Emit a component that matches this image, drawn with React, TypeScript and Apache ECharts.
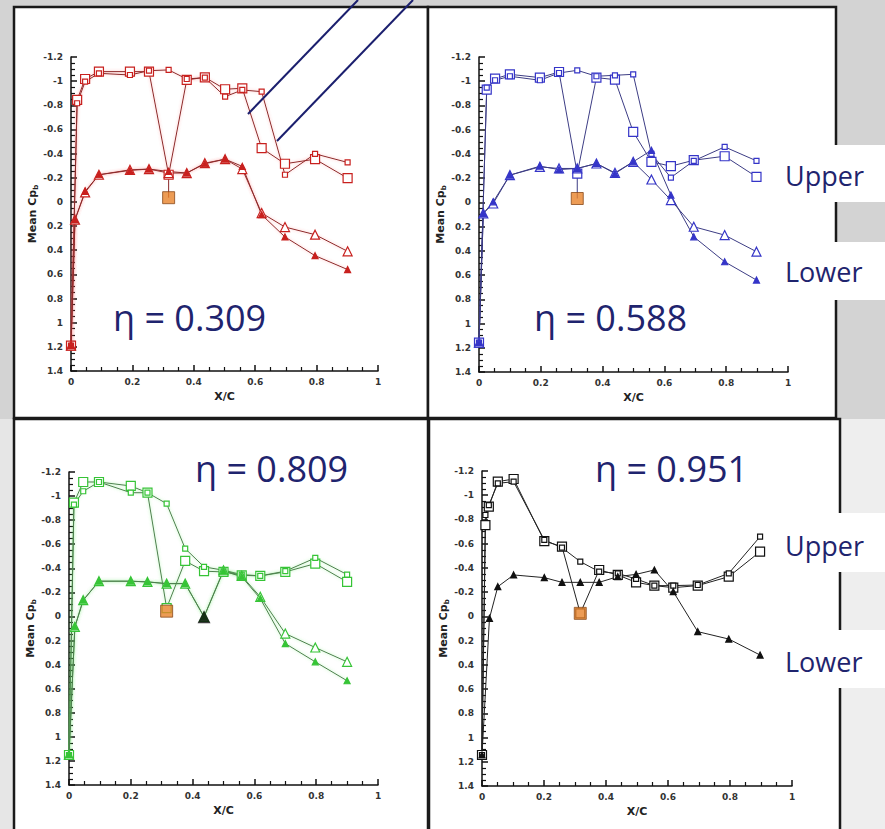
import React, { useEffect, useRef } from "react";
import * as echarts from "echarts";

// ---------- DATA ----------
// Panel η = 0.309
const x309U = [0, 0.02, 0.046, 0.091, 0.192, 0.254, 0.318, 0.377, 0.436, 0.502, 0.558, 0.621, 0.697, 0.795, 0.901];
const cp309UpA = [1.19, -0.845, -1.018, -1.079, -1.079, -1.079, -0.225, -1.01, -1.032, -0.933, -0.941, -0.445, -0.316, -0.354, -0.197];
const cp309UpB = [1.19, -0.817, -0.996, -1.065, -1.051, -1.087, -1.093, -1.018, -1.029, -0.872, -0.927, -0.913, -0.225, -0.398, -0.327];
const x309L = [0, 0.013, 0.046, 0.091, 0.192, 0.254, 0.318, 0.377, 0.436, 0.502, 0.558, 0.621, 0.697, 0.795, 0.901];
const cp309LoA = [1.19, 0.147, -0.079, -0.225, -0.266, -0.272, -0.239, -0.239, -0.321, -0.354, -0.272, 0.092, 0.208, 0.271, 0.409];
const cp309LoB = [1.19, 0.147, -0.087, -0.225, -0.261, -0.272, -0.252, -0.239, -0.316, -0.354, -0.294, 0.106, 0.29, 0.445, 0.56];
const miss309 = [0.318, -0.035];

// Panel η = 0.588
const x588U = [0, 0.025, 0.052, 0.1, 0.197, 0.259, 0.318, 0.38, 0.44, 0.499, 0.558, 0.621, 0.695, 0.795, 0.898];
const cp588UpA = [1.157, -0.931, -1.021, -1.057, -1.03, -1.076, -0.238, -1.03, -1.013, -0.582, -0.335, -0.299, -0.348, -0.381, -0.211];
const cp588UpB = [1.157, -0.947, -1.008, -1.041, -1.008, -1.068, -1.09, -1.041, -1.049, -1.057, -0.4, -0.205, -0.343, -0.458, -0.343];
const x588L = [0, 0.014, 0.046, 0.1, 0.197, 0.259, 0.318, 0.38, 0.44, 0.499, 0.558, 0.621, 0.695, 0.795, 0.898];
const cp588LoA = [1.157, 0.091, 0.009, -0.225, -0.293, -0.28, -0.28, -0.321, -0.244, -0.335, -0.189, -0.019, 0.201, 0.27, 0.407];
const cp588LoB = [1.157, 0.091, -0.005, -0.225, -0.299, -0.271, -0.28, -0.321, -0.238, -0.335, -0.43, -0.06, 0.284, 0.49, 0.641];
const miss588 = [0.318, -0.032];

// Panel η = 0.809
const x809U = [0, 0.016, 0.046, 0.097, 0.2, 0.254, 0.316, 0.376, 0.437, 0.5, 0.559, 0.619, 0.7, 0.797, 0.9];
const cp809UpA = [1.151, -0.945, -1.117, -1.117, -1.084, -1.028, -0.07, -0.461, -0.376, -0.37, -0.342, -0.337, -0.37, -0.439, -0.287];
const cp809UpB = [1.151, -0.929, -1.04, -1.117, -1.028, -1.028, -0.937, -0.564, -0.412, -0.384, -0.348, -0.337, -0.376, -0.486, -0.348];
const x809L = [0, 0.019, 0.046, 0.097, 0.2, 0.254, 0.316, 0.376, 0.437, 0.5, 0.559, 0.619, 0.7, 0.797, 0.9];
const cp809LoA = [1.151, 0.086, -0.135, -0.293, -0.293, -0.287, -0.273, -0.273, 0.003, -0.384, -0.337, -0.163, 0.142, 0.258, 0.377];
const cp809LoB = [1.151, 0.086, -0.135, -0.293, -0.293, -0.287, -0.273, -0.273, 0.003, -0.378, -0.33, -0.149, 0.225, 0.377, 0.534];
const miss809 = [0.316, -0.044];
const lowerMiss809 = [0.437, 0.003];

// Panel η = 0.951
const x951U = [0, 0.011, 0.022, 0.051, 0.102, 0.201, 0.258, 0.317, 0.378, 0.438, 0.497, 0.556, 0.617, 0.696, 0.796, 0.897];
const cp951UpA = [1.144, -0.754, -0.906, -1.112, -1.134, -0.622, -0.576, -0.025, -0.383, -0.342, -0.281, -0.254, -0.237, -0.254, -0.328, -0.534];
const cp951UpB = [1.144, -0.837, -0.919, -1.098, -1.112, -0.631, -0.567, -0.452, -0.369, -0.355, -0.309, -0.254, -0.254, -0.259, -0.355, -0.658];
const x951L = [0, 0.024, 0.051, 0.102, 0.201, 0.258, 0.317, 0.378, 0.438, 0.497, 0.556, 0.617, 0.696, 0.796, 0.897];
const cp951LoB = [1.144, 0.016, -0.245, -0.342, -0.32, -0.281, -0.281, -0.281, -0.328, -0.347, -0.383, -0.204, 0.126, 0.187, 0.319];
const miss951 = [0.317, -0.025];

const etaLabels = ["η = 0.309", "η = 0.588", "η = 0.809", "η = 0.951"];
const sideLabels = ["Upper", "Lower"];
const xTitle = "X/C";

// ---------- LAYOUT / STYLE ----------
const grids = [
  { left: 71, top: 57, width: 307, height: 314 },
  { left: 479, top: 57, width: 309, height: 315 },
  { left: 69, top: 472, width: 309, height: 313 },
  { left: 482, top: 471, width: 310, height: 315 },
];
const palette = [
  { mark: "#c8201e", line: "#8a2a2a", glow: "rgba(255,90,90,0.45)" },
  { mark: "#3535c8", line: "#3c3c84", glow: "rgba(0,0,0,0)" },
  { mark: "#36c436", line: "#4e7e4e", glow: "rgba(90,230,90,0.5)" },
  { mark: "#111111", line: "#222222", glow: "rgba(0,0,0,0)" },
];
const NAVY = "#1f246e";

const zip = (xs: number[], ys: number[]) => xs.map((x, i) => [x, ys[i]]);

function lineSeries(p: number, xs: number[], ys: number[], kind: string) {
  const c = palette[p];
  const sym: any = {
    upA: { symbol: "rect", size: 9, fill: "#ffffff" },
    upB: { symbol: "rect", size: 5, fill: "#ffffff" },
    loA: { symbol: "triangle", size: 9, fill: "#ffffff" },
    loB: { symbol: "triangle", size: 6, fill: c.mark },
  }[kind];
  return {
    type: "line",
    xAxisIndex: p,
    yAxisIndex: p,
    data: zip(xs, ys),
    symbol: sym.symbol,
    symbolSize: sym.size,
    showAllSymbol: true,
    lineStyle: { color: c.line, width: 1, shadowBlur: 3, shadowColor: c.glow },
    itemStyle: { color: sym.fill, borderColor: c.mark, borderWidth: 1.2 },
    z: 3,
  };
}

function missingSeries(p: number, pt: number[], dipY: number) {
  const c = palette[p];
  return [
    {
      type: "line",
      xAxisIndex: p,
      yAxisIndex: p,
      data: [[pt[0], dipY], [pt[0], pt[1]]],
      symbol: "none",
      lineStyle: { color: c.line, width: 1 },
      z: 3,
    },
    {
      type: "scatter",
      xAxisIndex: p,
      yAxisIndex: p,
      data: [pt],
      symbol: "rect",
      symbolSize: 12,
      itemStyle: { color: "#e8832b", borderColor: "#8a4a1a", borderWidth: 1 },
      z: 5,
    },
  ];
}

const fmt = (v: number) => String(Math.round(v * 10) / 10);

function xAxis(i: number) {
  return {
    gridIndex: i,
    type: "value",
    min: 0,
    max: 1,
    interval: 0.2,
    name: xTitle,
    nameLocation: "middle",
    nameGap: 20,
    nameTextStyle: { fontSize: 11, fontWeight: "bold", color: "#222", fontFamily: "DejaVu Sans" },
    axisLine: { onZero: false, lineStyle: { color: "#111", width: 1.5 } },
    axisTick: { inside: true, length: 6, lineStyle: { color: "#111", width: 1.5 } },
    minorTick: { show: true, splitNumber: 4, length: 4, lineStyle: { color: "#111", width: 1.2 } },
    splitLine: { show: false },
    axisLabel: { fontSize: 9, color: "#333", margin: 6, fontWeight: "bold", formatter: fmt, fontFamily: "DejaVu Sans" },
  };
}
function yAxis(i: number) {
  return {
    gridIndex: i,
    type: "value",
    inverse: true,
    min: -1.2,
    max: 1.4,
    interval: 0.2,
    name: "{t|Mean C}{p|p}{s|b}",
    nameLocation: "middle",
    nameGap: 30,
    nameRotate: 90,
    nameTextStyle: {
      color: "#222",
      rich: {
        t: { fontSize: 11, fontWeight: "bold", fontFamily: "DejaVu Sans", color: "#222" },
        p: { fontSize: 11, fontWeight: "bold", fontFamily: "DejaVu Sans", color: "#222" },
        s: { fontSize: 7, fontWeight: "bold", fontFamily: "DejaVu Sans", color: "#222", padding: [6, 0, 0, 0] },
      },
    },
    axisLine: { onZero: false, lineStyle: { color: "#111", width: 1.5 } },
    axisTick: { inside: true, length: 6, lineStyle: { color: "#111", width: 1.5 } },
    minorTick: { show: true, splitNumber: 4, length: 4, lineStyle: { color: "#111", width: 1.2 } },
    splitLine: { show: false },
    axisLabel: { fontSize: 9, color: "#333", margin: 8, fontWeight: "bold", formatter: fmt, fontFamily: "DejaVu Sans" },
  };
}

export default function App() {
  const ref = useRef<HTMLDivElement>(null);
  useEffect(() => {
    if (!ref.current) return;
    const chart = echarts.init(ref.current, undefined, { renderer: "svg" });

    const series: any[] = [
      lineSeries(0, x309U, cp309UpA, "upA"),
      lineSeries(0, x309U, cp309UpB, "upB"),
      lineSeries(0, x309L, cp309LoA, "loA"),
      lineSeries(0, x309L, cp309LoB, "loB"),
      ...missingSeries(0, miss309, cp309UpA[6]),
      lineSeries(1, x588U, cp588UpA, "upA"),
      lineSeries(1, x588U, cp588UpB, "upB"),
      lineSeries(1, x588L, cp588LoA, "loA"),
      lineSeries(1, x588L, cp588LoB, "loB"),
      ...missingSeries(1, miss588, cp588UpA[6]),
      lineSeries(2, x809U, cp809UpA, "upA"),
      lineSeries(2, x809U, cp809UpB, "upB"),
      lineSeries(2, x809L, cp809LoA, "loA"),
      lineSeries(2, x809L, cp809LoB, "loB"),
      ...missingSeries(2, miss809, cp809UpA[6]),
      {
        type: "scatter",
        xAxisIndex: 2,
        yAxisIndex: 2,
        data: [lowerMiss809],
        symbol: "triangle",
        symbolSize: 13,
        itemStyle: { color: "#0a0a0a" },
        z: 5,
      },
      lineSeries(3, x951U, cp951UpA, "upA"),
      lineSeries(3, x951U, cp951UpB, "upB"),
      lineSeries(3, x951L, cp951LoB, "loB"),
      ...missingSeries(3, miss951, cp951UpA[7]),
    ];

    const panelRect = (x: number, y: number, w: number, h: number) => ({
      type: "rect",
      z: -5,
      shape: { x, y, width: w, height: h },
      style: { fill: "#ffffff", stroke: "#1a1a1a", lineWidth: 2.5 },
    });
    const whiteBox = (y: number, h: number) => ({
      type: "rect",
      z: 50,
      shape: { x: 775, y, width: 110, height: h },
      style: { fill: "#ffffff" },
    });
    const txt = (t: string, x: number, y: number, size: number) => ({
      type: "text",
      z: 60,
      style: {
        text: t,
        x,
        y,
        fill: NAVY,
        fontSize: size,
        fontFamily: "Open Sans",
        verticalAlign: "middle",
        textAlign: "left",
      },
    });

    chart.setOption({
      animation: false,
      backgroundColor: "#d3d3d3",
      grid: grids.map((g) => ({ ...g, containLabel: false })),
      xAxis: grids.map((_, i) => xAxis(i)),
      yAxis: grids.map((_, i) => yAxis(i)),
      series,
      graphic: [
        { type: "rect", z: -8, shape: { x: 0, y: 419, width: 14, height: 410 }, style: { fill: "#e6e6e6" } },
        { type: "rect", z: -8, shape: { x: 840, y: 419, width: 45, height: 410 }, style: { fill: "#eeeeee" } },
        panelRect(14, 7, 414, 411),
        panelRect(428, 7, 408, 411),
        panelRect(14, 419, 414, 420),
        panelRect(429, 419, 411, 420),
        whiteBox(145, 57),
        whiteBox(242, 58),
        whiteBox(513, 59),
        whiteBox(630, 58),
        txt(sideLabels[0], 785, 175, 27),
        txt(sideLabels[1], 785, 271, 27),
        txt(sideLabels[0], 785, 545, 27),
        txt(sideLabels[1], 785, 661, 27),
        txt(etaLabels[0], 113, 317, 36),
        txt(etaLabels[1], 534, 317, 36),
        txt(etaLabels[2], 195, 468, 36),
        txt(etaLabels[3], 595, 468, 36),
        { type: "line", z: 60, shape: { x1: 358, y1: 0, x2: 248, y2: 114 }, style: { stroke: "#1b1f6e", lineWidth: 2 } },
        { type: "line", z: 60, shape: { x1: 413, y1: 0, x2: 277, y2: 141 }, style: { stroke: "#1b1f6e", lineWidth: 2 } },
      ],
    });
    return () => chart.dispose();
  }, []);
  return <div ref={ref} style={{ position: "fixed", left: 0, top: 0, width: 885, height: 829 }} />;
}
